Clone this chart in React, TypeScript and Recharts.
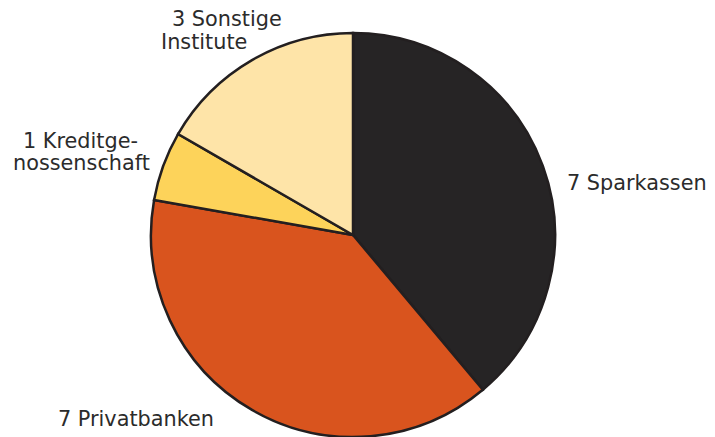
import { PieChart, Pie, Cell } from 'recharts';

const categories = ['Sparkassen', 'Privatbanken', 'Kreditgenossenschaft', 'Sonstige Institute'];
const counts = [7, 7, 1, 3];
const labelLines = [
  ['7 Sparkassen'],
  ['7 Privatbanken'],
  ['1 Kreditge-', 'nossenschaft'],
  ['3 Sonstige', 'Institute'],
];
const colors = ['#262425', '#d9541e', '#fdd35a', '#fee4a8'];

// label placement relative to pie centre (left x, baseline y per line)
const labelOffsets: { dx: number[]; dy: number[] }[] = [
  { dx: [214], dy: [-45] },
  { dx: [-295], dy: [191] },
  { dx: [-330, -340], dy: [-87, -65] },
  { dx: [-181, -192], dy: [-209, -186] },
];

const data = categories.map((name, i) => ({ name, value: counts[i] }));

const renderLabel = (props: any) => {
  const { cx, cy, index } = props;
  const off = labelOffsets[index];
  return (
    <g>
      {labelLines[index].map((line, j) => (
        <text
          key={j}
          x={cx + off.dx[j]}
          y={cy + off.dy[j]}
          textAnchor="start"
          fill="#2b2b2b"
          fontSize={20.8}
          fontFamily="'DejaVu Sans', Verdana, sans-serif"
        >
          {line}
        </text>
      ))}
    </g>
  );
};

const App = () => {
  return (
    <div style={{ position: 'absolute', left: 0, top: 0, background: '#fff' }}>
      <PieChart width={715} height={437} margin={{ top: 0, right: 0, bottom: 0, left: 0 }}>
        <Pie
          data={data}
          dataKey="value"
          nameKey="name"
          cx={353}
          cy={235}
          outerRadius={202}
          startAngle={90}
          endAngle={-270}
          stroke="#231f20"
          strokeWidth={2.5}
          label={renderLabel}
          labelLine={false}
          isAnimationActive={false}
        >
          {data.map((d, i) => (
            <Cell key={d.name} fill={colors[i]} />
          ))}
        </Pie>
      </PieChart>
    </div>
  );
};

export default App;
